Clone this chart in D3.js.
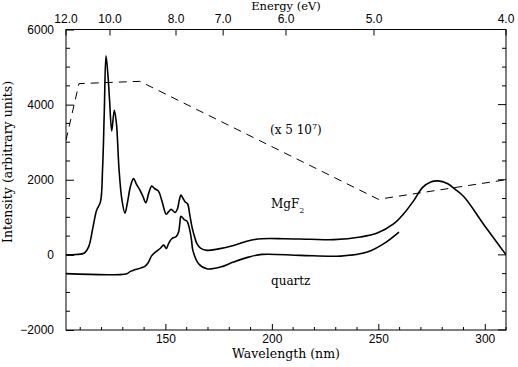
<!DOCTYPE html>
<html><head><meta charset="utf-8">
<script src="https://cdn.jsdelivr.net/npm/d3@7"></script>
<style>body{margin:0;background:#fff}svg{display:block}</style>
</head><body>
<svg id="c" width="518" height="367"></svg>
<script>
// ---- data ----
const wlTicks = [150, 200, 250, 300];
const wlMinor = [110,120,130,140,160,170,180,190,210,220,230,240,260,270,280,290,310];
const energyTicks = [12, 10, 8, 7, 6, 5, 4];
const energyLabels = ["12.0","10.0","8.0","7.0","6.0","5.0","4.0"];
const yTicks = [-2000, 0, 2000, 4000, 6000];
const yMinor = [-1500,-1000,-500,500,1000,1500,2500,3000,3500,4500,5000,5500];

const mgf2Wl = [103.3,108,112,114,116,117.7,119.5,120.5,121.3,122.1,123,123.8,124.8,126,127,128.2,129.5,131,132.2,133.5,135,136.5,138.1,139.5,140.8,142.2,143.6,145,146.7,148.3,150.4,151.5,152.7,154.6,155.7,156.5,157.3,158.3,159.3,160.4,161.5,162.5,163.7,164.8,166.5,169.5,175,182,190,195.4,205.6,218,229,241.6,249.5,257.3,262,266.7,270.7,274.6,278,282.4,286,290.3,300,310];
const mgf2Val = [0,10,50,220,740,1190,1410,2300,3800,5300,4800,4100,3300,3850,3500,2300,1500,1110,1400,1800,2030,1870,1720,1550,1390,1650,1830,1760,1700,1450,1080,1150,1210,1130,1230,1450,1590,1500,1410,1360,1050,740,480,300,180,120,160,250,390,430,430,415,405,475,580,830,1100,1450,1790,1940,1970,1900,1750,1540,770,0];

const quartzWl = [103.3,131.9,133.5,135,140.5,142,143.6,145.5,147.5,149.2,150.4,151.5,153,155.1,156.2,156.8,157.3,158.8,160.1,161.3,162.3,162.9,165.6,169.5,175.8,182,189,195.4,213.4,232.2,244.8,252.6,259.7];
const quartzVal = [-500,-500,-440,-410,-300,-200,-20,80,170,260,170,300,430,490,610,850,1030,940,900,700,380,120,-235,-370,-325,-190,-60,13,-13,-32,75,300,608];

const lampWl = [103.32,109.4,138,250,309.96];
const lampVal = [3050,4560,4620,1480,2000];

// ---- layout ----
const svg = d3.select("#c");
const L = 66, R = 506, T = 29.5, B = 330;
const x = d3.scaleLinear().domain([1239.84/12, 1239.84/4]).range([L, R]);
const y = d3.scaleLinear().domain([-2000, 6000]).range([B, T]);
const sans = "'Liberation Sans', Arial, sans-serif";
const serif = "'DejaVu Serif', serif";

const g = svg.append("g");
g.append("rect").attr("x", L).attr("y", T).attr("width", R-L).attr("height", B-T)
  .attr("fill","none").attr("stroke","#000").attr("stroke-width",1);

// bottom axis
const bax = d3.axisBottom(x).tickValues(wlTicks).tickSize(-6).tickPadding(4).tickFormat(d3.format("d"));
const bg = g.append("g").attr("transform",`translate(0,${B})`).call(bax);
bg.selectAll("text").attr("font-family",sans).attr("font-size",12).attr("fill","#000");
bg.selectAll("line").attr("stroke","#000");
bg.select(".domain").remove();
g.append("g").selectAll("line").data(wlMinor).join("line")
  .attr("x1",d=>x(d)).attr("x2",d=>x(d)).attr("y1",B).attr("y2",B-3).attr("stroke","#000");

// top axis (energy)
const tg = g.append("g").selectAll("g").data(energyTicks).join("g")
  .attr("transform",d=>`translate(${x(1239.84/d)},${T})`);
tg.append("line").attr("y1",0).attr("y2",6).attr("stroke","#000");
tg.append("text").attr("y",-7).attr("text-anchor","middle").attr("font-family",sans).attr("font-size",12)
  .text((d,i)=>energyLabels[i]);

// left axis
const lax = d3.axisLeft(y).tickValues(yTicks).tickSize(-8).tickPadding(12).tickFormat(d=>d<0?"\u2212"+Math.abs(d):d);
const lg = g.append("g").attr("transform",`translate(${L},0)`).call(lax);
lg.selectAll("text").attr("font-family",sans).attr("font-size",12).attr("fill","#000");
lg.selectAll("line").attr("stroke","#000");
lg.select(".domain").remove();
g.append("g").selectAll("line").data(yMinor).join("line")
  .attr("x1",L).attr("x2",L+4).attr("y1",d=>y(d)).attr("y2",d=>y(d)).attr("stroke","#000");
// right axis ticks
g.append("g").selectAll("line").data(yTicks).join("line")
  .attr("x1",R).attr("x2",R-8).attr("y1",d=>y(d)).attr("y2",d=>y(d)).attr("stroke","#000");
g.append("g").selectAll("line").data(yMinor).join("line")
  .attr("x1",R).attr("x2",R-4).attr("y1",d=>y(d)).attr("y2",d=>y(d)).attr("stroke","#000");

// curves
svg.append("clipPath").attr("id","pc").append("rect")
  .attr("x",L).attr("y",T).attr("width",R-L).attr("height",B-T);
const lineS = d3.line().x(d=>x(d[0])).y(d=>y(d[1])).curve(d3.curveCatmullRom.alpha(0.5));
const lineL = d3.line().x(d=>x(d[0])).y(d=>y(d[1]));
const cg = svg.append("g").attr("clip-path","url(#pc)");
cg.append("path").attr("d", lineL(d3.zip(lampWl, lampVal))).attr("fill","none")
  .attr("stroke","#000").attr("stroke-width",1).attr("stroke-dasharray","8,6");
cg.append("path").attr("d", lineS(d3.zip(mgf2Wl, mgf2Val))).attr("fill","none")
  .attr("stroke","#000").attr("stroke-width",1.6).attr("stroke-linejoin","round");
cg.append("path").attr("d", lineS(d3.zip(quartzWl, quartzVal))).attr("fill","none")
  .attr("stroke","#000").attr("stroke-width",1.6).attr("stroke-linejoin","round");

// titles
svg.append("text").attr("x",(L+R)/2).attr("y",9.5).attr("text-anchor","middle")
  .attr("font-family",serif).attr("font-size",11.5).text("Energy (eV)");
svg.append("text").attr("x",(L+R)/2).attr("y",358).attr("text-anchor","middle")
  .attr("font-family",serif).attr("font-size",12.5).text("Wavelength (nm)");
svg.append("text").attr("transform","translate(12,162) rotate(-90)").attr("text-anchor","middle")
  .attr("font-family",serif).attr("font-size",12.5).text("Intensity (arbitrary units)");

// annotations
const a1 = svg.append("text").attr("x",270).attr("y",134).attr("font-family",serif).attr("font-size",12);
a1.append("tspan").text("(x 5 10");
a1.append("tspan").attr("dy",-5).attr("font-size",8).text("7");
a1.append("tspan").attr("dy",5).text(")");
const a2 = svg.append("text").attr("x",271).attr("y",208).attr("font-family",serif).attr("font-size",12);
a2.append("tspan").text("MgF");
a2.append("tspan").attr("dy",5).attr("font-size",8).text("2");
svg.append("text").attr("x",271).attr("y",285).attr("font-family",serif).attr("font-size",12).text("quartz");
</script>
</body></html>
